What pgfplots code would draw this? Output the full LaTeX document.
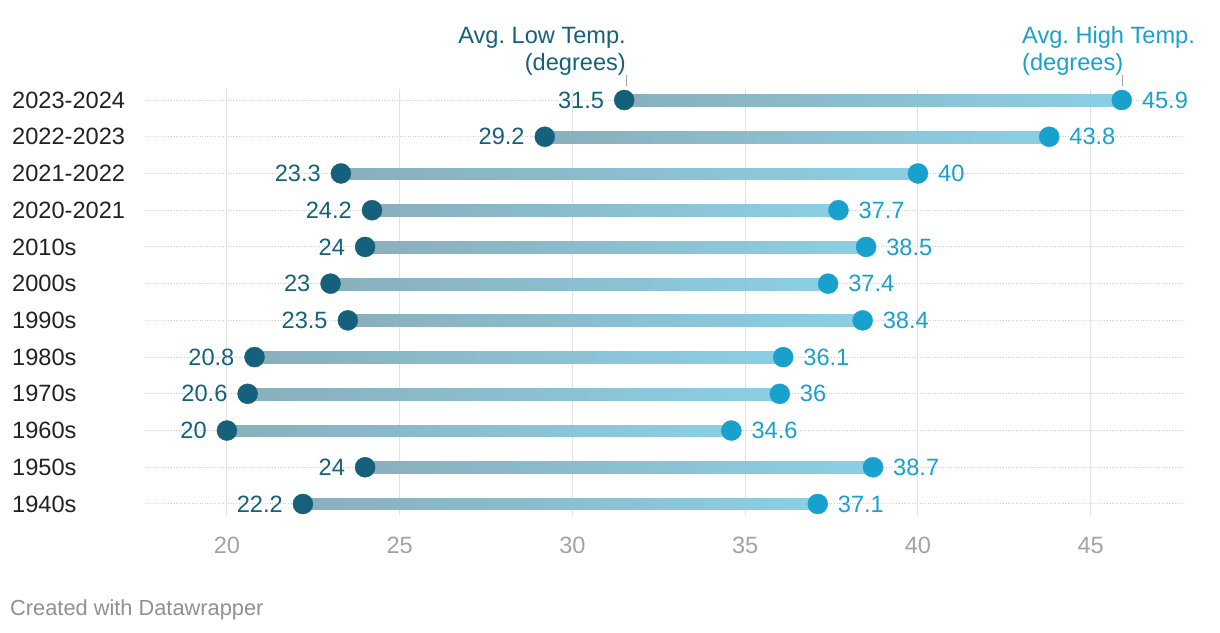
\documentclass[border=0pt]{standalone}
\usepackage{pgfplots}
\pgfplotsset{compat=1.18}
\usepackage{pgfplotstable}
\usepackage{fontspec}
\setmainfont{Liberation Sans}
\frenchspacing
\definecolor{lowc}{HTML}{15607A}
\definecolor{highc}{HTML}{18A1CD}
\definecolor{barL}{HTML}{8AAFBC}
\definecolor{barH}{HTML}{8BCFE5}
\definecolor{tickgray}{HTML}{A3A3A3}
\definecolor{gridgray}{HTML}{E3E3E3}
\definecolor{dotgray}{HTML}{CFCFCF}
\definecolor{footgray}{HTML}{909090}
\definecolor{labblack}{HTML}{222222}

\pgfplotstableread{
idx low high
0 31.5 45.9
1 29.2 43.8
2 23.3 40
3 24.2 37.7
4 24 38.5
5 23 37.4
6 23.5 38.4
7 20.8 36.1
8 20.6 36
9 20 34.6
10 24 38.7
11 22.2 37.1
}\data

\pgfplotstableread{
x y c
31.5 -0.16 0
45.9 -0.16 1
45.9 0.16 1
31.5 0.16 0
29.2 0.84 0
43.8 0.84 1
43.8 1.16 1
29.2 1.16 0
23.3 1.84 0
40 1.84 1
40 2.16 1
23.3 2.16 0
24.2 2.84 0
37.7 2.84 1
37.7 3.16 1
24.2 3.16 0
24 3.84 0
38.5 3.84 1
38.5 4.16 1
24 4.16 0
23 4.84 0
37.4 4.84 1
37.4 5.16 1
23 5.16 0
23.5 5.84 0
38.4 5.84 1
38.4 6.16 1
23.5 6.16 0
20.8 6.84 0
36.1 6.84 1
36.1 7.16 1
20.8 7.16 0
20.6 7.84 0
36 7.84 1
36 8.16 1
20.6 8.16 0
20 8.84 0
34.6 8.84 1
34.6 9.16 1
20 9.16 0
24 9.84 0
38.7 9.84 1
38.7 10.16 1
24 10.16 0
22.2 10.84 0
37.1 10.84 1
37.1 11.16 1
22.2 11.16 0
}\bars

\newcommand{\bigf}{\fontsize{23.6}{27}\selectfont}

\begin{document}
\begin{tikzpicture}
\useasboundingbox (0,0) rectangle (1220pt,-632pt);
\begin{axis}[
  at={(145pt,-515pt)}, anchor=south west,
  scale only axis, width=1040pt, height=426pt,
  xmin=17.63, xmax=47.73,
  ymin=-0.3, ymax=11.3, y dir=reverse,
  xtick={20,25,30,35,40,45},
  ytick={0,1,2,3,4,5,6,7,8,9,10,11},
  yticklabels={2023-2024,2022-2023,2021-2022,2020-2021,2010s,2000s,1990s,1980s,1970s,1960s,1950s,1940s},
  axis line style={draw=none},
  major tick length=0pt,
  xmajorgrids, ymajorgrids,
  x grid style={color=gridgray, line width=1pt},
  y grid style={color=dotgray, line width=1pt, dash pattern=on 1pt off 1.6pt},
  /pgf/number format/assume math mode=true,
  xticklabel style={font=\bigf, text=tickgray, anchor=north, inner sep=0pt, yshift=-22pt},
  yticklabel style={font=\bigf, text=labblack, anchor=west, inner sep=0pt, xshift=-133pt},
  clip=false,
  colormap={barmap}{color(0)=(barL) color(1)=(barH)},
]
\addplot[patch, patch type=rectangle, shader=interp, colormap name=barmap,
  point meta=\thisrow{c}, point meta min=0, point meta max=1]
  table[x=x, y=y] {\bars};
\addplot[only marks, mark=*, mark size=10pt, color=lowc,
  nodes near coords, point meta=explicit symbolic,
  every node near coord/.append style={anchor=east, inner sep=0pt, xshift=-20pt, font=\bigf, text=lowc}]
  table[x=low, y=idx, meta=low] {\data};
\addplot[only marks, mark=*, mark size=10pt, color=highc,
  nodes near coords, point meta=explicit symbolic,
  every node near coord/.append style={anchor=west, inner sep=0pt, xshift=20pt, font=\bigf, text=highc}]
  table[x=high, y=idx, meta=high] {\data};
\end{axis}
\node[anchor=base east, inner sep=0pt, font=\bigf, text=lowc] at (626pt,-43.5pt) {Avg. Low Temp.};
\node[anchor=base east, inner sep=0pt, font=\bigf, text=lowc] at (626pt,-70pt) {(degrees)};
\node[anchor=base west, inner sep=0pt, font=\bigf, text=highc] at (1022pt,-43.5pt) {Avg. High Temp.};
\node[anchor=base west, inner sep=0pt, font=\bigf, text=highc] at (1022pt,-70pt) {(degrees)};
\draw[color=tickgray, line width=1pt] (626pt,-75pt) -- (626pt,-86pt);
\draw[color=tickgray, line width=1pt] (1122pt,-75pt) -- (1122pt,-86pt);
\node[anchor=base west, inner sep=0pt, font=\fontsize{21.8}{25}\selectfont, text=footgray] at (10pt,-615pt) {Created with Datawrapper};
\end{tikzpicture}
\end{document}
